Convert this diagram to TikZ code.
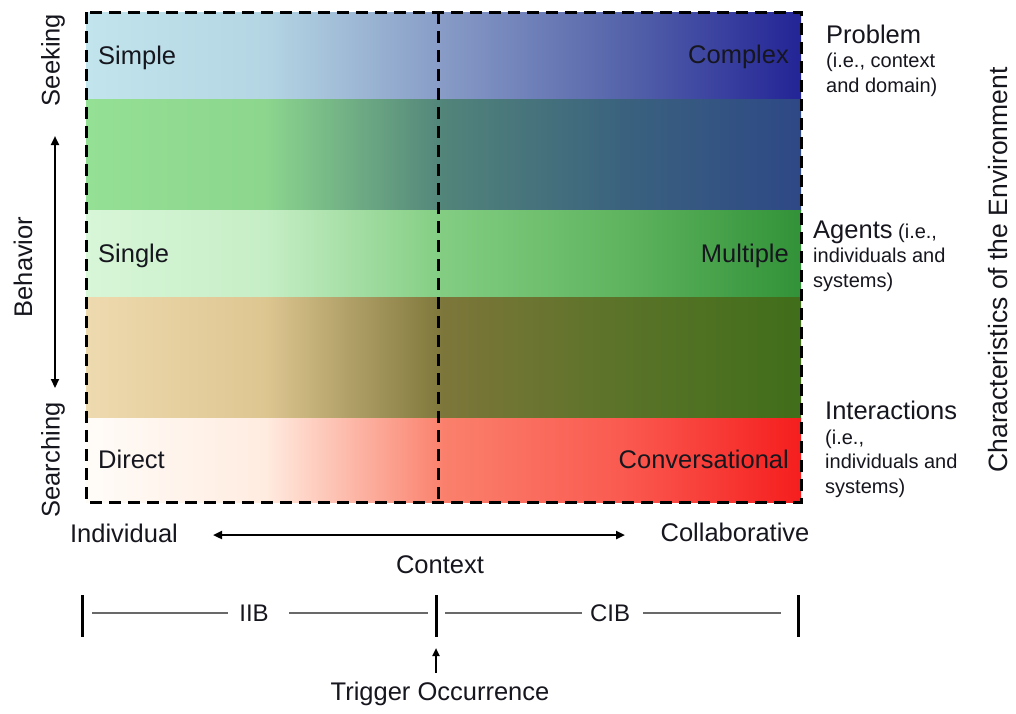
\documentclass[tikz,border=0pt]{standalone}
\usepackage{fontspec}
\setmainfont{Liberation Sans}
\usetikzlibrary{arrows.meta}
% band colours: L = left, Q = quarter, M = middle, T = three quarter, R = right
\definecolor{aL}{RGB}{194,228,236}\definecolor{aQ}{RGB}{180,214,228}\definecolor{aM}{RGB}{135,155,198}\definecolor{aT}{RGB}{85,100,170}\definecolor{aR}{RGB}{35,36,150}
\definecolor{bL}{RGB}{148,224,148}\definecolor{bQ}{RGB}{140,214,142}\definecolor{bM}{RGB}{82,132,122}\definecolor{bT}{RGB}{58,98,126}\definecolor{bR}{RGB}{46,72,134}
\definecolor{cL}{RGB}{216,246,216}\definecolor{cQ}{RGB}{198,238,198}\definecolor{cM}{RGB}{130,205,130}\definecolor{cT}{RGB}{95,180,95}\definecolor{cR}{RGB}{50,146,56}
\definecolor{dL}{RGB}{238,218,175}\definecolor{dQ}{RGB}{222,198,145}\definecolor{dM}{RGB}{125,118,58}\definecolor{dT}{RGB}{90,115,40}\definecolor{dR}{RGB}{64,110,26}
\definecolor{eL}{RGB}{255,252,248}\definecolor{eQ}{RGB}{255,236,224}\definecolor{eM}{RGB}{250,128,108}\definecolor{eT}{RGB}{250,90,80}\definecolor{eR}{RGB}{245,30,30}
\newcommand\mkbandshading[1]{%
  \pgfdeclarehorizontalshading{band#1}{100bp}{color(0bp)=(#1L); color(25bp)=(#1L); color(37.5bp)=(#1Q); color(50bp)=(#1M); color(62.5bp)=(#1T); color(75bp)=(#1R); color(100bp)=(#1R)}}
\mkbandshading{a}\mkbandshading{b}\mkbandshading{c}\mkbandshading{d}\mkbandshading{e}
\definecolor{ink}{RGB}{22,22,30}
\definecolor{rule}{RGB}{105,105,105}
\tikzset{
  big/.style={font=\fontsize{25.5}{30}\selectfont, text=ink, inner sep=0pt},
  side/.style={font=\fontsize{20}{24.5}\selectfont, text=ink, inner sep=0pt, align=left, anchor=base west},
  frame/.style={line width=3pt, dash pattern=on 12pt off 7pt, draw=black},
  twoway/.style={line width=2.2pt, {Triangle[length=9pt,width=8pt]}-{Triangle[length=9pt,width=8pt]}},
  bar/.style={line width=3pt, draw=black},
  thin/.style={line width=1.6pt, draw=rule}
}
\begin{document}
\begin{tikzpicture}[x=1pt,y=-1pt]
\useasboundingbox (0,0) rectangle (1016,713);
\fill[white] (0,0) rectangle (1016,713);
% colour bands
\shade[shading=banda] (86,12) rectangle (801,99);
\shade[shading=bandb] (86,99) rectangle (801,210);
\shade[shading=bandc] (86,210) rectangle (801,297);
\shade[shading=bandd] (86,297) rectangle (801,418);
\shade[shading=bande] (86,418) rectangle (801,502);
% dashed frame
\draw[frame] (86,12) rectangle (801,502);
\draw[frame] (438,12) -- (438,502);
% band labels
\node[big, anchor=base west] (simple) at (98,64) {Simple};
\node[big, anchor=base east] (complex) at (789,63) {Complex};
\node[big, anchor=base west] (single) at (98,262) {Single};
\node[big, anchor=base east] (multiple) at (789,262) {Multiple};
\node[big, anchor=base west] (direct) at (98,468) {Direct};
\node[big, anchor=base east] (conv) at (789,468) {Conversational};
% right-hand labels (base = last line)
\node[side] (problem) at (826,92) {{\fontsize{25.5}{30}\selectfont Problem}\\(i.e., context\\and domain)};
\node[side] (agents) at (813,287) {{\fontsize{25.5}{30}\selectfont Agents} (i.e.,\\individuals and\\systems)};
\node[side] (inter) at (825,493) {{\fontsize{25.5}{30}\selectfont Interactions}\\(i.e.,\\individuals and\\systems)};
\node[big, rotate=90, font=\fontsize{26.5}{30}\selectfont] (env) at (998,270) {Characteristics of the Environment};
% behaviour axis
\node[big, rotate=90] (seeking) at (53,60) {Seeking};
\node[big, rotate=90] (searching) at (53,460) {Searching};
\node[big, rotate=90] (behavior) at (23,267) {Behavior};
\coordinate (btop) at (55,136);
\coordinate (bbot) at (55,388);
\draw[twoway] (btop) -- (bbot);
% context axis
\node[big] (individual) at (124,533) {Individual};
\node[big] (collab) at (735,532) {Collaborative};
\coordinate (cl) at (213,535);
\coordinate (cr) at (625,535);
\draw[twoway] (cl) -- (cr);
\node[big] (context) at (440,565) {Context};
% IIB / CIB scale
\node[big, font=\fontsize{24}{28}\selectfont] (iib) at (254,613) {IIB};
\node[big, font=\fontsize{24}{28}\selectfont] (cib) at (610,613) {CIB};
\coordinate (b1t) at (82,595); \coordinate (b1b) at (82,637);
\coordinate (b2t) at (436,595); \coordinate (b2b) at (436,637);
\coordinate (b3t) at (798,595); \coordinate (b3b) at (798,637);
\draw[bar] (b1t) -- (b1b);
\draw[bar] (b2t) -- (b2b);
\draw[bar] (b3t) -- (b3b);
\draw[thin] (92,613) -- (228,613);
\draw[thin] (289,613) -- (428,613);
\draw[thin] (445,613) -- (582,613);
\draw[thin] (643,613) -- (781,613);
% trigger
\node[big] (trigger) at (440,694) {Trigger Occurrence};
\coordinate (tt) at (436,648);
\coordinate (tb) at (436,673);
\draw[line width=2pt, -{Triangle[length=8pt,width=7pt]}] (tb) -- (tt);
\end{tikzpicture}
\end{document}
